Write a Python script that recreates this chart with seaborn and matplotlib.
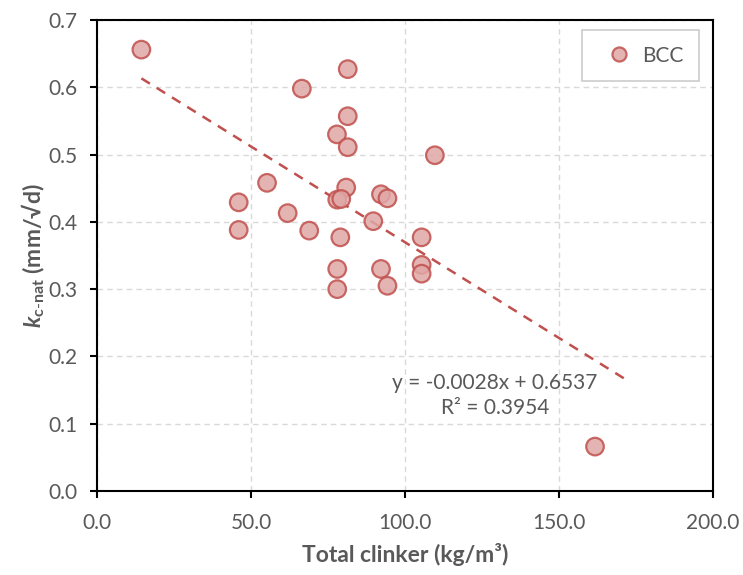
import numpy as np
import pandas as pd
import matplotlib
matplotlib.use("Agg")
import matplotlib.pyplot as plt
import seaborn as sns

# Data
clinker = [14.4, 66.5, 81.4, 81.4, 77.9, 81.4, 109.7, 55.2, 80.9, 46.0,
           46.0, 78.0, 79.3, 92.2, 94.3, 61.9, 68.9, 89.7, 79.0, 105.4,
           78.0, 92.2, 105.4, 105.4, 78.0, 94.3, 161.7]
k_nat = [0.656, 0.598, 0.627, 0.557, 0.530, 0.511, 0.499, 0.458, 0.451, 0.429,
         0.388, 0.433, 0.434, 0.441, 0.435, 0.413, 0.387, 0.401, 0.377, 0.377,
         0.330, 0.330, 0.336, 0.323, 0.300, 0.305, 0.066]
series_name = "BCC"
x_ticks = [0, 50, 100, 150, 200]
y_ticks = [0.0, 0.1, 0.2, 0.3, 0.4, 0.5, 0.6, 0.7]
equation_text = "y = -0.0028x + 0.6537\nR² = 0.3954"

RED = "#C0504D"
GRAY = "#595959"


def main():
    df = pd.DataFrame({"clinker": clinker, "k": k_nat, "series": series_name})

    sns.set_style("white")
    plt.rcParams["font.family"] = ["Lato", "DejaVu Sans"]
    plt.rcParams["mathtext.fontset"] = "custom"
    plt.rcParams["mathtext.rm"] = "Lato"
    plt.rcParams["mathtext.it"] = "Lato:italic"
    plt.rcParams["mathtext.bf"] = "Lato:bold"
    plt.rcParams["mathtext.bfit"] = "Lato:bold:italic"

    fig = plt.figure(figsize=(7.43, 5.75), dpi=100)
    ax = fig.add_axes([0.1306, 0.1461, 0.829, 0.8191])

    ax.grid(True, color="#D9D9D9", linestyle=(0, (4, 3)), linewidth=1.0)
    ax.set_axisbelow(True)

    sns.scatterplot(data=df, x="clinker", y="k", hue="series",
                    palette=[(0.878, 0.655, 0.651, 1.0)], s=160,
                    edgecolor=RED, linewidth=1.6, alpha=0.85, ax=ax, zorder=3)

    # linear trend line, extended forward like the spreadsheet trendline
    slope, intercept = np.polyfit(df["clinker"], df["k"], 1)
    xs = np.array([df["clinker"].min(), df["clinker"].max() + 10])
    ax.plot(xs, slope * xs + intercept, color=RED, linestyle=(0, (4, 3.2)),
            linewidth=1.8, zorder=2)

    ax.text(129.2, 0.142, equation_text, ha="center", va="center",
            fontsize=15, color=GRAY, linespacing=1.35)

    ax.set_xlim(0, 200)
    ax.set_ylim(0, 0.7)
    ax.set_xticks(x_ticks)
    ax.set_yticks(y_ticks)
    ax.set_xticklabels([f"{v:.1f}" for v in x_ticks])
    ax.set_yticklabels([f"{v:.1f}" for v in y_ticks])
    ax.tick_params(axis="both", colors="black", labelcolor=GRAY, labelsize=15,
                   length=5, width=1.5, direction="out", left=True, bottom=True)
    ax.tick_params(axis="x", pad=11)
    ax.tick_params(axis="y", pad=9)

    for sp in ax.spines.values():
        sp.set_color("black")
        sp.set_linewidth(1.5)

    ax.set_xlabel("Total clinker (kg/m³)", fontsize=16.5, fontweight="bold",
                  color=GRAY, labelpad=7)
    ax.set_ylabel(r"$\mathbfit{k}_{\mathbf{c\text{-}nat}}$ (mm/√d)", fontsize=16.5,
                  fontweight="bold", color=GRAY, labelpad=1)

    leg = ax.legend(loc="upper right", bbox_to_anchor=(0.977, 0.979), fontsize=15,
                    frameon=True, fancybox=False, edgecolor="#BFBFBF",
                    borderaxespad=0, handletextpad=0.1, borderpad=0.75,
                    markerscale=0.8)
    leg.get_frame().set_linewidth(1.2)
    for t in leg.get_texts():
        t.set_color(GRAY)

    fig.savefig("out.png", dpi=100)


if __name__ == "__main__":
    main()
